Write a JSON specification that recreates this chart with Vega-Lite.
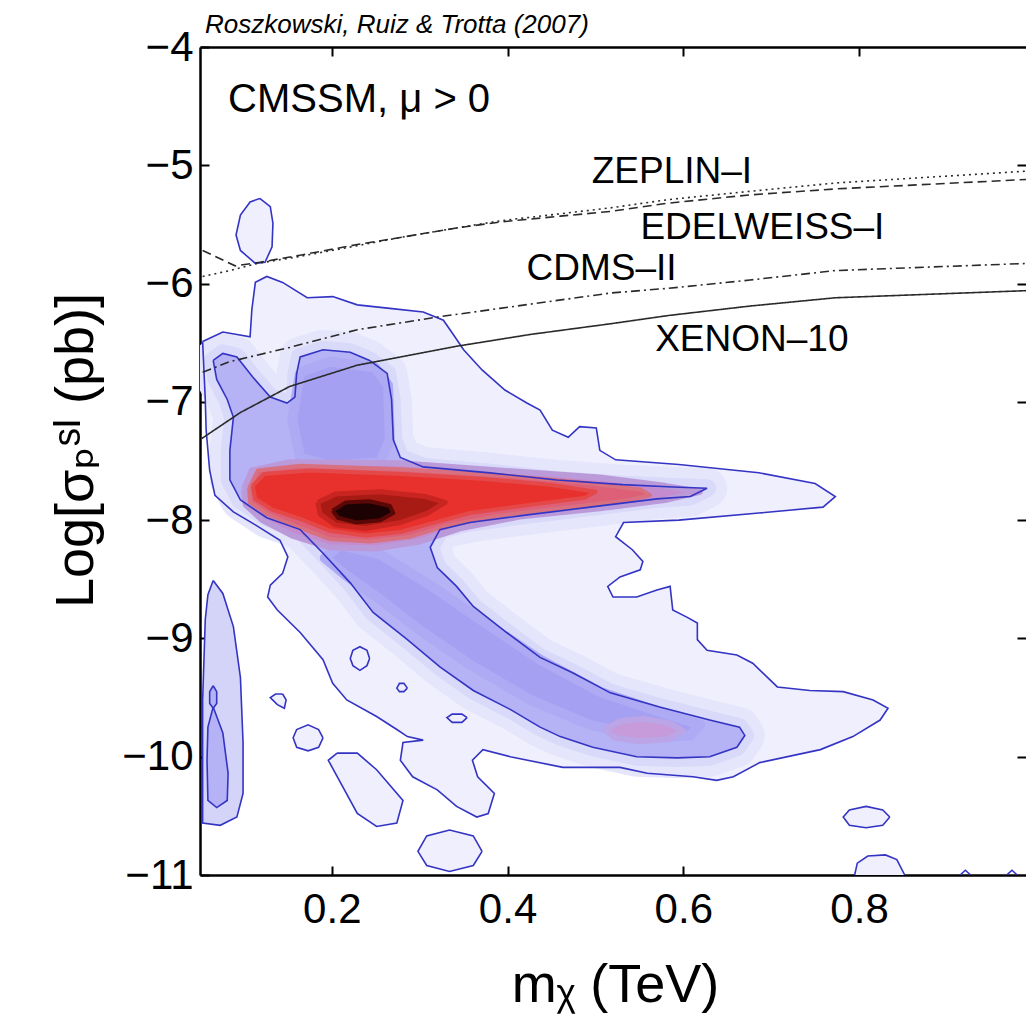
{
"$schema":"https://vega.github.io/schema/vega-lite/v6.json",
"width":826,"height":828,
"autosize":{"type":"none"},
"padding":{"left":200,"top":47,"right":0,"bottom":152},
"background":"white",
"config":{"view":{"stroke":null},"font":"Liberation Sans","axis":{"labelFont":"Liberation Sans","titleFont":"Liberation Sans, DejaVu Sans","labelColor":"#000","titleColor":"#000","tickColor":"#000","domainColor":"#000","grid":false,"labelOverlap":false,"labelFlush":false}},
"title":{"text":"Roszkowski, Ruiz & Trotta (2007)","anchor":"start","frame":"group","fontSize":26,"fontStyle":"italic","fontWeight":"normal","font":"Liberation Sans","offset":8,"dx":5,"dy":20,"color":"#000"},
"datasets":{
"contours":[
{"g":"a","x":0.053,"y":-6.49},{"g":"a","x":0.076,"y":-6.41},{"g":"a","x":0.107,"y":-6.45},{"g":"a","x":0.109,"y":-6.22},{"g":"a","x":0.113,"y":-5.99},{"g":"a","x":0.126,"y":-5.94},{"g":"a","x":0.144,"y":-5.99},{"g":"a","x":0.172,"y":-6.12},{"g":"a","x":0.201,"y":-6.11},{"g":"a","x":0.229,"y":-6.18},{"g":"a","x":0.266,"y":-6.21},{"g":"a","x":0.304,"y":-6.24},{"g":"a","x":0.327,"y":-6.31},{"g":"a","x":0.340,"y":-6.45},{"g":"a","x":0.350,"y":-6.56},{"g":"a","x":0.371,"y":-6.73},{"g":"a","x":0.397,"y":-6.90},{"g":"a","x":0.422,"y":-7.01},{"g":"a","x":0.437,"y":-7.07},{"g":"a","x":0.451,"y":-7.24},{"g":"a","x":0.469,"y":-7.30},{"g":"a","x":0.482,"y":-7.21},{"g":"a","x":0.501,"y":-7.22},{"g":"a","x":0.505,"y":-7.41},{"g":"a","x":0.523,"y":-7.49},{"g":"a","x":0.595,"y":-7.53},{"g":"a","x":0.686,"y":-7.60},{"g":"a","x":0.750,"y":-7.69},{"g":"a","x":0.773,"y":-7.80},{"g":"a","x":0.759,"y":-7.89},{"g":"a","x":0.686,"y":-7.94},{"g":"a","x":0.595,"y":-8.00},{"g":"a","x":0.532,"y":-8.02},{"g":"a","x":0.523,"y":-8.14},{"g":"a","x":0.542,"y":-8.25},{"g":"a","x":0.554,"y":-8.35},{"g":"a","x":0.551,"y":-8.42},{"g":"a","x":0.528,"y":-8.48},{"g":"a","x":0.514,"y":-8.56},{"g":"a","x":0.520,"y":-8.65},{"g":"a","x":0.547,"y":-8.65},{"g":"a","x":0.570,"y":-8.59},{"g":"a","x":0.585,"y":-8.56},{"g":"a","x":0.588,"y":-8.76},{"g":"a","x":0.604,"y":-8.82},{"g":"a","x":0.616,"y":-8.87},{"g":"a","x":0.616,"y":-9.01},{"g":"a","x":0.627,"y":-9.10},{"g":"a","x":0.661,"y":-9.14},{"g":"a","x":0.679,"y":-9.21},{"g":"a","x":0.707,"y":-9.41},{"g":"a","x":0.744,"y":-9.44},{"g":"a","x":0.782,"y":-9.45},{"g":"a","x":0.816,"y":-9.52},{"g":"a","x":0.833,"y":-9.59},{"g":"a","x":0.824,"y":-9.69},{"g":"a","x":0.793,"y":-9.83},{"g":"a","x":0.756,"y":-9.94},{"g":"a","x":0.687,"y":-10.05},{"g":"a","x":0.657,"y":-10.17},{"g":"a","x":0.638,"y":-10.20},{"g":"a","x":0.611,"y":-10.17},{"g":"a","x":0.559,"y":-10.14},{"g":"a","x":0.528,"y":-10.09},{"g":"a","x":0.463,"y":-10.09},{"g":"a","x":0.403,"y":-10.00},{"g":"a","x":0.372,"y":-9.94},{"g":"a","x":0.360,"y":-10.03},{"g":"a","x":0.366,"y":-10.17},{"g":"a","x":0.385,"y":-10.31},{"g":"a","x":0.378,"y":-10.48},{"g":"a","x":0.365,"y":-10.51},{"g":"a","x":0.342,"y":-10.42},{"g":"a","x":0.320,"y":-10.28},{"g":"a","x":0.292,"y":-10.17},{"g":"a","x":0.278,"y":-10.03},{"g":"a","x":0.281,"y":-9.88},{"g":"a","x":0.304,"y":-9.86},{"g":"a","x":0.286,"y":-9.83},{"g":"a","x":0.274,"y":-9.77},{"g":"a","x":0.251,"y":-9.66},{"g":"a","x":0.217,"y":-9.52},{"g":"a","x":0.201,"y":-9.38},{"g":"a","x":0.190,"y":-9.18},{"g":"a","x":0.164,"y":-8.95},{"g":"a","x":0.138,"y":-8.76},{"g":"a","x":0.127,"y":-8.65},{"g":"a","x":0.130,"y":-8.55},{"g":"a","x":0.144,"y":-8.45},{"g":"a","x":0.150,"y":-8.31},{"g":"a","x":0.141,"y":-8.17},{"g":"a","x":0.113,"y":-8.04},{"g":"a","x":0.088,"y":-7.93},{"g":"a","x":0.067,"y":-7.79},{"g":"a","x":0.061,"y":-7.58},{"g":"a","x":0.057,"y":-7.24},{"g":"a","x":0.056,"y":-6.98},{"g":"a","x":0.053,"y":-6.49},
{"g":"b","x":0.065,"y":-6.65},{"g":"b","x":0.076,"y":-6.59},{"g":"b","x":0.092,"y":-6.62},{"g":"b","x":0.110,"y":-6.79},{"g":"b","x":0.130,"y":-6.96},{"g":"b","x":0.149,"y":-7.01},{"g":"b","x":0.158,"y":-6.96},{"g":"b","x":0.160,"y":-6.76},{"g":"b","x":0.164,"y":-6.62},{"g":"b","x":0.190,"y":-6.56},{"g":"b","x":0.221,"y":-6.58},{"g":"b","x":0.243,"y":-6.65},{"g":"b","x":0.263,"y":-6.76},{"g":"b","x":0.268,"y":-6.98},{"g":"b","x":0.270,"y":-7.32},{"g":"b","x":0.278,"y":-7.47},{"g":"b","x":0.304,"y":-7.55},{"g":"b","x":0.380,"y":-7.60},{"g":"b","x":0.456,"y":-7.66},{"g":"b","x":0.531,"y":-7.70},{"g":"b","x":0.588,"y":-7.72},{"g":"b","x":0.627,"y":-7.73},{"g":"b","x":0.608,"y":-7.80},{"g":"b","x":0.570,"y":-7.82},{"g":"b","x":0.494,"y":-7.89},{"g":"b","x":0.418,"y":-7.96},{"g":"b","x":0.357,"y":-8.02},{"g":"b","x":0.323,"y":-8.08},{"g":"b","x":0.312,"y":-8.23},{"g":"b","x":0.320,"y":-8.40},{"g":"b","x":0.342,"y":-8.56},{"g":"b","x":0.361,"y":-8.73},{"g":"b","x":0.399,"y":-8.95},{"g":"b","x":0.437,"y":-9.16},{"g":"b","x":0.474,"y":-9.29},{"g":"b","x":0.517,"y":-9.46},{"g":"b","x":0.573,"y":-9.58},{"g":"b","x":0.630,"y":-9.69},{"g":"b","x":0.664,"y":-9.75},{"g":"b","x":0.670,"y":-9.82},{"g":"b","x":0.661,"y":-9.92},{"g":"b","x":0.630,"y":-10.00},{"g":"b","x":0.593,"y":-10.01},{"g":"b","x":0.547,"y":-10.00},{"g":"b","x":0.497,"y":-9.92},{"g":"b","x":0.460,"y":-9.83},{"g":"b","x":0.437,"y":-9.75},{"g":"b","x":0.403,"y":-9.60},{"g":"b","x":0.361,"y":-9.44},{"g":"b","x":0.323,"y":-9.24},{"g":"b","x":0.286,"y":-9.01},{"g":"b","x":0.247,"y":-8.78},{"g":"b","x":0.221,"y":-8.53},{"g":"b","x":0.190,"y":-8.28},{"g":"b","x":0.164,"y":-8.08},{"g":"b","x":0.126,"y":-7.98},{"g":"b","x":0.096,"y":-7.83},{"g":"b","x":0.084,"y":-7.66},{"g":"b","x":0.084,"y":-7.41},{"g":"b","x":0.088,"y":-7.13},{"g":"b","x":0.081,"y":-6.98},{"g":"b","x":0.069,"y":-6.81},{"g":"b","x":0.065,"y":-6.65},
{"g":"c","x":0.118,"y":-5.28},{"g":"c","x":0.130,"y":-5.35},{"g":"c","x":0.133,"y":-5.49},{"g":"c","x":0.132,"y":-5.69},{"g":"c","x":0.124,"y":-5.82},{"g":"c","x":0.113,"y":-5.83},{"g":"c","x":0.096,"y":-5.72},{"g":"c","x":0.091,"y":-5.59},{"g":"c","x":0.096,"y":-5.42},{"g":"c","x":0.107,"y":-5.31},{"g":"c","x":0.118,"y":-5.28},
{"g":"d","x":0.065,"y":-8.51},{"g":"d","x":0.076,"y":-8.62},{"g":"d","x":0.088,"y":-8.90},{"g":"d","x":0.096,"y":-9.33},{"g":"d","x":0.099,"y":-9.88},{"g":"d","x":0.099,"y":-10.31},{"g":"d","x":0.092,"y":-10.51},{"g":"d","x":0.073,"y":-10.58},{"g":"d","x":0.053,"y":-10.56},{"g":"d","x":0.053,"y":-9.52},{"g":"d","x":0.056,"y":-8.84},{"g":"d","x":0.059,"y":-8.63},{"g":"d","x":0.065,"y":-8.51},
{"g":"e","x":0.065,"y":-9.58},{"g":"e","x":0.076,"y":-9.80},{"g":"e","x":0.082,"y":-10.14},{"g":"e","x":0.081,"y":-10.37},{"g":"e","x":0.069,"y":-10.43},{"g":"e","x":0.059,"y":-10.37},{"g":"e","x":0.058,"y":-10.03},{"g":"e","x":0.059,"y":-9.75},{"g":"e","x":0.065,"y":-9.58},
{"g":"f","x":0.065,"y":-9.40},{"g":"f","x":0.069,"y":-9.45},{"g":"f","x":0.069,"y":-9.55},{"g":"f","x":0.065,"y":-9.59},{"g":"f","x":0.061,"y":-9.55},{"g":"f","x":0.061,"y":-9.45},{"g":"f","x":0.065,"y":-9.40},
{"g":"h","x":0.243,"y":-9.17},{"g":"h","x":0.240,"y":-9.23},{"g":"h","x":0.232,"y":-9.27},{"g":"h","x":0.224,"y":-9.23},{"g":"h","x":0.221,"y":-9.17},{"g":"h","x":0.224,"y":-9.10},{"g":"h","x":0.232,"y":-9.07},{"g":"h","x":0.240,"y":-9.10},{"g":"h","x":0.243,"y":-9.17},
{"g":"i","x":0.286,"y":-9.42},{"g":"i","x":0.282,"y":-9.45},{"g":"i","x":0.277,"y":-9.45},{"g":"i","x":0.274,"y":-9.42},{"g":"i","x":0.277,"y":-9.38},{"g":"i","x":0.282,"y":-9.38},{"g":"i","x":0.286,"y":-9.42},
{"g":"j","x":0.354,"y":-9.67},{"g":"j","x":0.348,"y":-9.71},{"g":"j","x":0.337,"y":-9.71},{"g":"j","x":0.331,"y":-9.67},{"g":"j","x":0.337,"y":-9.64},{"g":"j","x":0.348,"y":-9.64},{"g":"j","x":0.354,"y":-9.67},
{"g":"k","x":0.144,"y":-9.47},{"g":"k","x":0.148,"y":-9.52},{"g":"k","x":0.146,"y":-9.59},{"g":"k","x":0.138,"y":-9.56},{"g":"k","x":0.130,"y":-9.50},{"g":"k","x":0.136,"y":-9.47},{"g":"k","x":0.144,"y":-9.47},
{"g":"l","x":0.190,"y":-9.84},{"g":"l","x":0.185,"y":-9.92},{"g":"l","x":0.173,"y":-9.95},{"g":"l","x":0.160,"y":-9.92},{"g":"l","x":0.156,"y":-9.84},{"g":"l","x":0.160,"y":-9.77},{"g":"l","x":0.173,"y":-9.73},{"g":"l","x":0.185,"y":-9.77},{"g":"l","x":0.190,"y":-9.84},
{"g":"m","x":0.206,"y":-9.97},{"g":"m","x":0.229,"y":-9.97},{"g":"m","x":0.251,"y":-10.11},{"g":"m","x":0.281,"y":-10.37},{"g":"m","x":0.274,"y":-10.56},{"g":"m","x":0.251,"y":-10.59},{"g":"m","x":0.229,"y":-10.48},{"g":"m","x":0.196,"y":-10.03},{"g":"m","x":0.206,"y":-9.97},
{"g":"n","x":0.371,"y":-10.80},{"g":"n","x":0.361,"y":-10.92},{"g":"n","x":0.334,"y":-10.97},{"g":"n","x":0.308,"y":-10.92},{"g":"n","x":0.298,"y":-10.80},{"g":"n","x":0.308,"y":-10.67},{"g":"n","x":0.334,"y":-10.62},{"g":"n","x":0.361,"y":-10.67},{"g":"n","x":0.371,"y":-10.80},
{"g":"p","x":0.835,"y":-10.51},{"g":"p","x":0.827,"y":-10.58},{"g":"p","x":0.808,"y":-10.60},{"g":"p","x":0.789,"y":-10.58},{"g":"p","x":0.782,"y":-10.51},{"g":"p","x":0.789,"y":-10.45},{"g":"p","x":0.808,"y":-10.42},{"g":"p","x":0.827,"y":-10.45},{"g":"p","x":0.835,"y":-10.51},
{"g":"q","x":0.795,"y":-11.0},{"g":"q","x":0.798,"y":-10.90},{"g":"q","x":0.810,"y":-10.84},{"g":"q","x":0.830,"y":-10.83},{"g":"q","x":0.843,"y":-10.87},{"g":"q","x":0.852,"y":-11.0},
{"g":"r","x":0.915,"y":-11.0},{"g":"r","x":0.921,"y":-10.96},{"g":"r","x":0.927,"y":-11.0},
{"g":"s","x":0.968,"y":-11.0},{"g":"s","x":0.974,"y":-10.96},{"g":"s","x":0.980,"y":-11.0}
],
"shades":[
{"g":"d1","x":0.164,"y":-6.75},{"g":"d1","x":0.198,"y":-6.66},{"g":"d1","x":0.249,"y":-6.71},{"g":"d1","x":0.264,"y":-6.86},{"g":"d1","x":0.266,"y":-7.32},{"g":"d1","x":0.255,"y":-7.51},{"g":"d1","x":0.198,"y":-7.54},{"g":"d1","x":0.164,"y":-7.47},{"g":"d1","x":0.155,"y":-7.15},{"g":"d1","x":0.164,"y":-6.75},
{"g":"d2","x":0.209,"y":-8.21},{"g":"d2","x":0.255,"y":-8.29},{"g":"d2","x":0.312,"y":-8.55},{"g":"d2","x":0.369,"y":-8.84},{"g":"d2","x":0.437,"y":-9.18},{"g":"d2","x":0.505,"y":-9.45},{"g":"d2","x":0.573,"y":-9.62},{"g":"d2","x":0.619,"y":-9.73},{"g":"d2","x":0.608,"y":-9.82},{"g":"d2","x":0.562,"y":-9.84},{"g":"d2","x":0.494,"y":-9.73},{"g":"d2","x":0.426,"y":-9.52},{"g":"d2","x":0.357,"y":-9.22},{"g":"d2","x":0.300,"y":-8.93},{"g":"d2","x":0.255,"y":-8.67},{"g":"d2","x":0.215,"y":-8.46},{"g":"d2","x":0.192,"y":-8.32},{"g":"d2","x":0.209,"y":-8.21},
{"g":"pk","x":0.511,"y":-9.77},{"g":"pk","x":0.528,"y":-9.70},{"g":"pk","x":0.556,"y":-9.68},{"g":"pk","x":0.585,"y":-9.72},{"g":"pk","x":0.599,"y":-9.78},{"g":"pk","x":0.583,"y":-9.85},{"g":"pk","x":0.551,"y":-9.87},{"g":"pk","x":0.522,"y":-9.84},{"g":"pk","x":0.511,"y":-9.77},
{"g":"s1","x":0.100,"y":-7.74},{"g":"s1","x":0.109,"y":-7.58},{"g":"s1","x":0.152,"y":-7.51},{"g":"s1","x":0.278,"y":-7.52},{"g":"s1","x":0.391,"y":-7.58},{"g":"s1","x":0.505,"y":-7.64},{"g":"s1","x":0.579,"y":-7.71},{"g":"s1","x":0.619,"y":-7.76},{"g":"s1","x":0.579,"y":-7.83},{"g":"s1","x":0.505,"y":-7.90},{"g":"s1","x":0.414,"y":-7.97},{"g":"s1","x":0.346,"y":-8.07},{"g":"s1","x":0.300,"y":-8.18},{"g":"s1","x":0.249,"y":-8.24},{"g":"s1","x":0.198,"y":-8.23},{"g":"s1","x":0.155,"y":-8.13},{"g":"s1","x":0.121,"y":-8.00},{"g":"s1","x":0.102,"y":-7.87},{"g":"s1","x":0.100,"y":-7.74},
{"g":"s2","x":0.106,"y":-7.73},{"g":"s2","x":0.116,"y":-7.58},{"g":"s2","x":0.164,"y":-7.54},{"g":"s2","x":0.278,"y":-7.57},{"g":"s2","x":0.391,"y":-7.62},{"g":"s2","x":0.482,"y":-7.68},{"g":"s2","x":0.551,"y":-7.74},{"g":"s2","x":0.562,"y":-7.79},{"g":"s2","x":0.539,"y":-7.83},{"g":"s2","x":0.471,"y":-7.89},{"g":"s2","x":0.391,"y":-7.96},{"g":"s2","x":0.329,"y":-8.05},{"g":"s2","x":0.289,"y":-8.14},{"g":"s2","x":0.243,"y":-8.18},{"g":"s2","x":0.198,"y":-8.16},{"g":"s2","x":0.162,"y":-8.06},{"g":"s2","x":0.127,"y":-7.95},{"g":"s2","x":0.107,"y":-7.85},{"g":"s2","x":0.106,"y":-7.73},
{"g":"s3","x":0.110,"y":-7.71},{"g":"s3","x":0.123,"y":-7.61},{"g":"s3","x":0.175,"y":-7.58},{"g":"s3","x":0.278,"y":-7.61},{"g":"s3","x":0.369,"y":-7.65},{"g":"s3","x":0.448,"y":-7.70},{"g":"s3","x":0.500,"y":-7.76},{"g":"s3","x":0.488,"y":-7.81},{"g":"s3","x":0.426,"y":-7.87},{"g":"s3","x":0.357,"y":-7.94},{"g":"s3","x":0.312,"y":-8.03},{"g":"s3","x":0.278,"y":-8.10},{"g":"s3","x":0.238,"y":-8.13},{"g":"s3","x":0.198,"y":-8.09},{"g":"s3","x":0.164,"y":-7.99},{"g":"s3","x":0.132,"y":-7.91},{"g":"s3","x":0.113,"y":-7.82},{"g":"s3","x":0.110,"y":-7.71},
{"g":"s4","x":0.184,"y":-7.85},{"g":"s4","x":0.204,"y":-7.78},{"g":"s4","x":0.255,"y":-7.76},{"g":"s4","x":0.306,"y":-7.80},{"g":"s4","x":0.329,"y":-7.85},{"g":"s4","x":0.309,"y":-7.94},{"g":"s4","x":0.278,"y":-8.02},{"g":"s4","x":0.238,"y":-8.07},{"g":"s4","x":0.204,"y":-8.04},{"g":"s4","x":0.187,"y":-7.95},{"g":"s4","x":0.184,"y":-7.85},
{"g":"s5","x":0.201,"y":-7.92},{"g":"s5","x":0.216,"y":-7.85},{"g":"s5","x":0.243,"y":-7.84},{"g":"s5","x":0.266,"y":-7.88},{"g":"s5","x":0.270,"y":-7.94},{"g":"s5","x":0.255,"y":-8.00},{"g":"s5","x":0.228,"y":-8.02},{"g":"s5","x":0.207,"y":-7.98},{"g":"s5","x":0.201,"y":-7.92}
],
"limits":[
{"e":"ZEPLIN","x":0.053,"y":-5.94},{"e":"ZEPLIN","x":0.084,"y":-5.89},{"e":"ZEPLIN","x":0.115,"y":-5.83},{"e":"ZEPLIN","x":0.164,"y":-5.77},{"e":"ZEPLIN","x":0.229,"y":-5.68},{"e":"ZEPLIN","x":0.278,"y":-5.61},{"e":"ZEPLIN","x":0.342,"y":-5.53},{"e":"ZEPLIN","x":0.391,"y":-5.47},{"e":"ZEPLIN","x":0.460,"y":-5.41},{"e":"ZEPLIN","x":0.517,"y":-5.36},{"e":"ZEPLIN","x":0.583,"y":-5.29},{"e":"ZEPLIN","x":0.676,"y":-5.22},{"e":"ZEPLIN","x":0.773,"y":-5.15},{"e":"ZEPLIN","x":0.881,"y":-5.10},{"e":"ZEPLIN","x":0.990,"y":-5.05},
{"e":"EDELWEISS","x":0.053,"y":-5.72},{"e":"EDELWEISS","x":0.073,"y":-5.79},{"e":"EDELWEISS","x":0.090,"y":-5.85},{"e":"EDELWEISS","x":0.118,"y":-5.82},{"e":"EDELWEISS","x":0.164,"y":-5.76},{"e":"EDELWEISS","x":0.229,"y":-5.67},{"e":"EDELWEISS","x":0.278,"y":-5.61},{"e":"EDELWEISS","x":0.342,"y":-5.53},{"e":"EDELWEISS","x":0.391,"y":-5.48},{"e":"EDELWEISS","x":0.460,"y":-5.43},{"e":"EDELWEISS","x":0.517,"y":-5.39},{"e":"EDELWEISS","x":0.583,"y":-5.32},{"e":"EDELWEISS","x":0.676,"y":-5.25},{"e":"EDELWEISS","x":0.773,"y":-5.20},{"e":"EDELWEISS","x":0.881,"y":-5.16},{"e":"EDELWEISS","x":0.990,"y":-5.12},
{"e":"CDMS","x":0.053,"y":-6.75},{"e":"CDMS","x":0.084,"y":-6.66},{"e":"CDMS","x":0.152,"y":-6.54},{"e":"CDMS","x":0.229,"y":-6.39},{"e":"CDMS","x":0.323,"y":-6.28},{"e":"CDMS","x":0.391,"y":-6.21},{"e":"CDMS","x":0.517,"y":-6.08},{"e":"CDMS","x":0.583,"y":-6.04},{"e":"CDMS","x":0.676,"y":-5.97},{"e":"CDMS","x":0.773,"y":-5.89},{"e":"CDMS","x":0.990,"y":-5.83},
{"e":"XENON","x":0.052,"y":-7.31},{"e":"XENON","x":0.096,"y":-7.09},{"e":"XENON","x":0.152,"y":-6.87},{"e":"XENON","x":0.229,"y":-6.69},{"e":"XENON","x":0.342,"y":-6.53},{"e":"XENON","x":0.426,"y":-6.43},{"e":"XENON","x":0.517,"y":-6.34},{"e":"XENON","x":0.583,"y":-6.27},{"e":"XENON","x":0.676,"y":-6.19},{"e":"XENON","x":0.773,"y":-6.12},{"e":"XENON","x":0.990,"y":-6.06}
],
"labels":[
{"x":0.587,"y":-5.06,"t":"ZEPLIN–I"},{"x":0.69,"y":-5.53,"t":"EDELWEISS–I"},{"x":0.507,"y":-5.88,"t":"CDMS–II"},{"x":0.678,"y":-6.48,"t":"XENON–10"}
],
"model":[{"x":0.082,"y":-4.45,"t":"CMSSM, μ > 0"}]
},
"layer":[
{"data":{"name":"contours"},
 "transform":[{"filter":{"field":"g","oneOf":["a","c","k","l","m","n","p","q"]}}],
 "mark":{"type":"line","fill":"#efeffd","stroke":"#efeffd","strokeWidth":0,"clip":true},
 "encoding":{
  "x":{"field":"x","type":"quantitative","scale":{"domain":[0.05,0.99],"nice":false,"zero":false},
       "axis":{"orient":"bottom","values":[0.2,0.4,0.6,0.8],"format":".1f","title":"mᵪ (TeV)","tickSize":-9,"tickWidth":2,"domainWidth":2.5,"labelFontSize":42,"labelPadding":23,"titleFontSize":54,"titleFontWeight":"normal","titleX":415,"titleY":110,"titleBaseline":"middle","titleAlign":"center"}},
  "y":{"field":"y","type":"quantitative","scale":{"domain":[-11,-4],"nice":false,"zero":false},
       "axis":{"orient":"left","values":[-11,-10,-9,-8,-7,-6,-5,-4],"format":"d","title":"Log[σₚˢᴵ (pb)]","tickSize":-9,"tickWidth":2,"domainWidth":2.5,"labelFontSize":42,"labelPadding":16,"titleFontSize":54,"titleFontWeight":"normal","titleX":-124,"titleY":403,"titleBaseline":"middle","titleAlign":"center","titleAngle":-90}},
  "detail":{"field":"g"},
  "order":{"value":null}
 }},
{"data":{"name":"contours"},
 "transform":[{"filter":{"field":"g","equal":"b"}}],
 "mark":{"type":"line","stroke":"#e5e5fb","strokeWidth":40,"strokeJoin":"round","strokeCap":"round","clip":true},
 "encoding":{"x":{"field":"x","type":"quantitative","axis":null},"y":{"field":"y","type":"quantitative","axis":null},"order":{"value":null}}},
{"data":{"name":"contours"},
 "transform":[{"filter":{"field":"g","equal":"b"}}],
 "mark":{"type":"line","stroke":"#d9d9f9","strokeWidth":18,"strokeJoin":"round","strokeCap":"round","clip":true},
 "encoding":{"x":{"field":"x","type":"quantitative","axis":null},"y":{"field":"y","type":"quantitative","axis":null},"order":{"value":null}}},
{"data":{"name":"contours"},
 "transform":[{"filter":{"field":"g","equal":"d"}}],
 "mark":{"type":"line","fill":"#d4d4f9","stroke":"#d4d4f9","strokeWidth":0,"clip":true},
 "encoding":{"x":{"field":"x","type":"quantitative","axis":null},"y":{"field":"y","type":"quantitative","axis":null},"detail":{"field":"g"},"order":{"value":null}}},
{"data":{"name":"contours"},
 "transform":[{"filter":{"field":"g","oneOf":["b","e","f"]}}],
 "mark":{"type":"line","fill":"#b5b2f6","stroke":"#b5b2f6","strokeWidth":0,"clip":true},
 "encoding":{"x":{"field":"x","type":"quantitative","axis":null},"y":{"field":"y","type":"quantitative","axis":null},"detail":{"field":"g"},"order":{"value":null}}},
{"data":{"name":"shades"},
 "transform":[{"filter":{"field":"g","oneOf":["d1","d2"]}}],
 "mark":{"type":"line","fill":"#a6a0f2","stroke":"#aeaaf4","strokeWidth":10,"strokeJoin":"round","clip":true},
 "encoding":{"x":{"field":"x","type":"quantitative","axis":null},"y":{"field":"y","type":"quantitative","axis":null},"detail":{"field":"g"},"order":{"value":null}}},
{"data":{"name":"shades"},
 "transform":[{"filter":{"field":"g","equal":"pk"}}],
 "mark":{"type":"line","fill":"#c79ad9","stroke":"#bba5e6","strokeWidth":6,"strokeJoin":"round","clip":true},
 "encoding":{"x":{"field":"x","type":"quantitative","axis":null},"y":{"field":"y","type":"quantitative","axis":null},"detail":{"field":"g"},"order":{"value":null}}},
{"data":{"name":"shades"},
 "transform":[{"filter":{"field":"g","equal":"s1"}}],
 "mark":{"type":"line","fill":"#c48ccc","stroke":"#bb9ada","strokeWidth":6,"strokeJoin":"round","clip":true},
 "encoding":{"x":{"field":"x","type":"quantitative","axis":null},"y":{"field":"y","type":"quantitative","axis":null},"order":{"value":null}}},
{"data":{"name":"shades"},
 "transform":[{"filter":{"field":"g","equal":"s2"}}],
 "mark":{"type":"line","fill":"#dd5f78","stroke":"#d8707f","strokeWidth":4,"strokeJoin":"round","clip":true},
 "encoding":{"x":{"field":"x","type":"quantitative","axis":null},"y":{"field":"y","type":"quantitative","axis":null},"order":{"value":null}}},
{"data":{"name":"shades"},
 "transform":[{"filter":{"field":"g","equal":"s3"}}],
 "mark":{"type":"line","fill":"#e8302c","stroke":"#e44848","strokeWidth":4,"strokeJoin":"round","clip":true},
 "encoding":{"x":{"field":"x","type":"quantitative","axis":null},"y":{"field":"y","type":"quantitative","axis":null},"order":{"value":null}}},
{"data":{"name":"shades"},
 "transform":[{"filter":{"field":"g","equal":"s4"}}],
 "mark":{"type":"line","fill":"#a81a14","stroke":"#c82520","strokeWidth":5,"strokeJoin":"round","clip":true},
 "encoding":{"x":{"field":"x","type":"quantitative","axis":null},"y":{"field":"y","type":"quantitative","axis":null},"order":{"value":null}}},
{"data":{"name":"shades"},
 "transform":[{"filter":{"field":"g","equal":"s5"}}],
 "mark":{"type":"line","fill":"#1c0202","stroke":"#5a0806","strokeWidth":4,"strokeJoin":"round","clip":true},
 "encoding":{"x":{"field":"x","type":"quantitative","axis":null},"y":{"field":"y","type":"quantitative","axis":null},"order":{"value":null}}},
{"data":{"name":"contours"},
 "mark":{"type":"line","color":"#3434c4","strokeWidth":1.6,"clip":true},
 "encoding":{
  "x":{"field":"x","type":"quantitative","axis":{"orient":"top","values":[0.2,0.4,0.6,0.8],"labels":false,"title":null,"tickSize":-9,"tickWidth":2,"domain":true,"domainWidth":2.5}},
  "y":{"field":"y","type":"quantitative","axis":{"orient":"right","values":[-10,-9,-8,-7,-6,-5],"labels":false,"title":null,"tickSize":-9,"tickWidth":2,"domain":false}},
  "detail":{"field":"g"},
  "order":{"value":null}
 }},
{"data":{"name":"limits"},
 "mark":{"type":"line","color":"#2a2a2a","strokeWidth":1.6,"clip":true},
 "encoding":{
  "x":{"field":"x","type":"quantitative","axis":null},
  "y":{"field":"y","type":"quantitative","axis":null},
  "strokeDash":{"field":"e","type":"nominal","scale":{"domain":["ZEPLIN","EDELWEISS","CDMS","XENON"],"range":[[2,4],[9,5],[9,4,2,4],[1,0]]},"legend":null},
  "order":{"value":null}
 }},
{"data":{"name":"labels"},
 "mark":{"type":"text","fontSize":37,"font":"Liberation Sans","color":"#000","align":"center","baseline":"middle"},
 "encoding":{
  "x":{"field":"x","type":"quantitative","axis":null},
  "y":{"field":"y","type":"quantitative","axis":null},
  "text":{"field":"t"}
 }},
{"data":{"name":"model"},
 "mark":{"type":"text","fontSize":40,"font":"Liberation Sans","color":"#000","align":"left","baseline":"middle"},
 "encoding":{
  "x":{"field":"x","type":"quantitative","axis":null},
  "y":{"field":"y","type":"quantitative","axis":null},
  "text":{"field":"t"}
 }}
],
"resolve":{"axis":{"x":"independent","y":"independent"}}
}
